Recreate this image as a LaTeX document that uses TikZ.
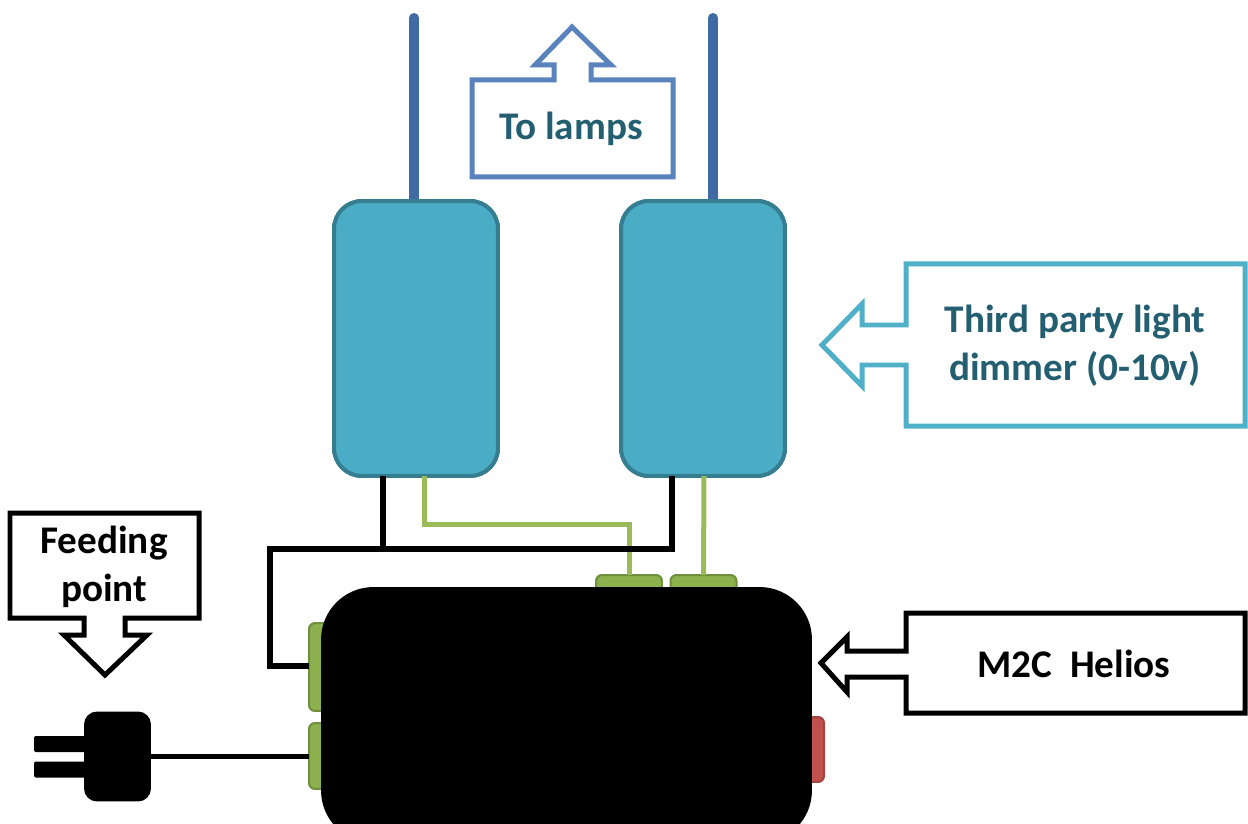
\documentclass[tikz,border=0pt]{standalone}
\usepackage{fontspec}
\setmainfont{Carlito}
\usetikzlibrary{positioning,calc}

\definecolor{dimmerfill}{HTML}{4BACC6}
\definecolor{dimmerline}{HTML}{357D91}
\definecolor{lampblue}{HTML}{3F6AA3}
\definecolor{boxblue}{HTML}{5A82BC}
\definecolor{boxteal}{HTML}{4FB0C8}
\definecolor{labelteal}{HTML}{235F70}
\definecolor{tabgreen}{HTML}{8CB04E}
\definecolor{tabline}{HTML}{6F8F3C}
\definecolor{wiregreen}{HTML}{9BBB59}
\definecolor{tabred}{HTML}{C0504D}

\begin{document}
\begin{tikzpicture}
[x=.02cm,y=-.02cm,
dimmer/.style={shape=rectangle,rounded corners=.56cm,draw=dimmerline,fill=dimmerfill,line width=.08cm,
  minimum width=3.28cm,minimum height=5.5cm,inner sep=0pt,outer sep=0pt},
tab/.style={shape=rectangle,rounded corners=.12cm,draw=tabline,fill=tabgreen,line width=.04cm,inner sep=0pt,outer sep=0pt},
toptab/.style={tab,minimum width=1.32cm,minimum height=.6cm},
sidetab/.style={tab,minimum width=.6cm},
redtab/.style={tab,draw=tabred!85!black,fill=tabred,minimum width=.6cm,minimum height=1.3cm},
lampwire/.style={line width=.2cm,draw=lampblue,line cap=round},
blackwire/.style={line width=.13cm,draw=black},
greenwire/.style={line width=.1cm,draw=wiregreen},
callout/.style={line width=.1cm,fill=white,line join=miter},
boxlabel/.style={font=\fontsize{22.3}{27.3}\selectfont\bfseries,align=center,inner sep=0pt}]
\path[use as bounding box,clip] (0,0) rectangle (1248,824);
%% lamp wires
\coordinate (lamp1) at (414,18);
\coordinate (lamp2) at (713,18);
\node (dimmer1) [dimmer] at (416,338.5) {};
\node (dimmer2) [dimmer] at (703,338.5) {};
\draw[lampwire] (lamp1) -- (lamp1 |- dimmer1.north);
\draw[lampwire] (lamp2) -- (lamp2 |- dimmer2.north);
\node (dimmer1) [dimmer] at (416,338.5) {};
\node (dimmer2) [dimmer] at (703,338.5) {};
%% helios and its tabs
\node (tabtop1) [toptab] at (629,590) {};
\node (tabtop2) [toptab] at (703.5,590) {};
\node (tableft1) [sidetab,minimum height=1.76cm] at (324,667) {};
\node (tableft2) [sidetab,minimum height=1.32cm] at (324,756) {};
\node (tabred) [redtab] at (809,749.5) {};
\node (helios) [shape=rectangle,rounded corners=1.05cm,fill=black,minimum width=9.82cm,minimum height=5.12cm,
  inner sep=0pt] at (566.5,715) {};
%% plug
\node (prong1) [shape=rectangle,rounded corners=.04cm,fill=black,minimum width=1.2cm,minimum height=.32cm,
  inner sep=0pt] at (64,744) {};
\node (prong2) [shape=rectangle,rounded corners=.04cm,fill=black,minimum width=1.2cm,minimum height=.32cm,
  inner sep=0pt] at (64,769.5) {};
\node (plug) [shape=rectangle,rounded corners=.26cm,fill=black,minimum width=1.34cm,minimum height=1.8cm,
  inner sep=0pt] at (117.5,756.5) {};
%% wires
\coordinate (black1) at (383,476);
\coordinate (black2) at (672,476);
\coordinate (green1) at (424,476);
\coordinate (green2) at (704,476);
\coordinate (bend) at (270,549);
\coordinate (greenbend) at (629,524);
\coordinate (sidein) at (309,666);
\draw[greenwire] (green1) |- (greenbend) -- (tabtop1.north);
\draw[greenwire] (green2) -- (tabtop2.north);
\draw[blackwire] (black2) |- (bend) |- (sidein);
\draw[blackwire] (black1) -- (black1 |- bend);
\draw[blackwire,line width=.11cm] (plug.east) -- (plug.east -| tableft2.west);
%% callouts
\draw[callout,draw=boxblue] (472,80) -- (554,80) -- (554,65) -- (535,65) -- (572,27) -- (611,65) -- (591,65)
  -- (591,80) -- (673,80) -- (673,177) -- (472,177) -- cycle;
\node (lamps) [boxlabel,text=labelteal] at (571,129) {To lamps};
\draw[callout,draw=boxteal] (906,264) -- (1245,264) -- (1245,426) -- (906,426) -- (906,365) -- (862,365)
  -- (862,386) -- (822,345) -- (862,304) -- (862,325) -- (906,325) -- cycle;
\node (third) [boxlabel,text=labelteal] at (1075,346) {Third party light\\dimmer (0-10v)};
\draw[callout,draw=black] (906,613) -- (1245,613) -- (1245,713) -- (906,713) -- (906,677) -- (847,677)
  -- (847,692) -- (821,663) -- (847,637) -- (847,651) -- (906,651) -- cycle;
\node (m2c) [boxlabel] at (1074,664) {M2C\ \ Helios};
\draw[callout,draw=black] (10,513) -- (199,513) -- (199,618) -- (125,618) -- (125,635) -- (147,635) -- (105,675)
  -- (64,635) -- (84,635) -- (84,618) -- (10,618) -- cycle;
\node (feeding) [boxlabel] at (104,567) {Feeding\\point};
\end{tikzpicture}
\end{document}
